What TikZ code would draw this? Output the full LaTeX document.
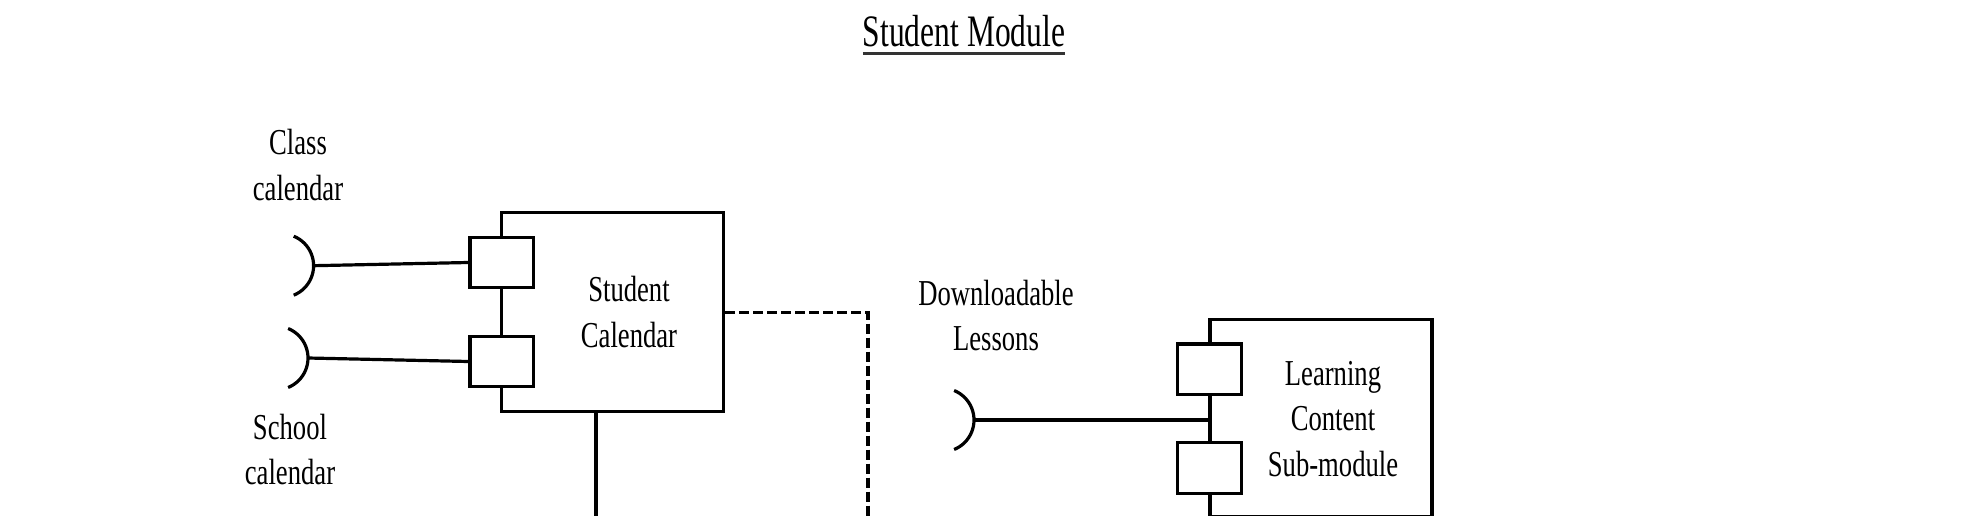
\documentclass[tikz,border=0pt]{standalone}
\usepackage{fontspec}
\setmainfont{Liberation Serif}
\newfontfamily\lblfam[FakeStretch=0.73]{Liberation Serif}
\newfontfamily\ttlfam[FakeStretch=0.70]{Liberation Serif}
\newcommand\lblstack[1]{\begin{tabular}[t]{@{}c@{}}#1\end{tabular}}
\begin{document}
\begin{tikzpicture}[x=1pt,y=-1pt,
  comp/.style={draw, line width=3.2pt, fill=white, inner sep=0pt, minimum width=222pt, minimum height=199pt},
  port/.style={draw, line width=3.2pt, fill=white, inner sep=0pt, minimum width=63.5pt, minimum height=50.5pt},
  conn/.style={line width=3.2pt},
  depconn/.style={line width=3.2pt, dash pattern=on 10pt off 4pt},
  lbl/.style={inner sep=0pt, anchor=base, font=\lblfam\fontsize{36.5}{45.5}\selectfont},
  ttl/.style={inner sep=0pt, anchor=base, font=\ttlfam\fontsize{45}{50}\selectfont}]
\useasboundingbox (0,0) rectangle (1965,516);
\clip (0,0) rectangle (1965,516);
\fill[white] (0,0) rectangle (1965,516);

% title
\node[ttl] (title) at (964,47) {Student Module};
\draw[line width=2.6pt, black!80] ([yshift=-6.5pt]title.base west) -- ([yshift=-6.5pt]title.base east);

% components
\node[comp] (sc) at (612.7,312.2) {};
\node[comp, minimum height=197.6pt] (lc) at (1321,418.2) {};

% ports
\node[port] (p1) at (501.7,262.5) {};
\node[port] (p2) at (501.7,361.5) {};
\node[port] (p3) at (1209.5,369.3) {};
\node[port] (p4) at (1209.5,468) {};

% sockets (required interfaces)
\coordinate (s1) at (313.6,265.7);
\coordinate (s2) at (308,358);
\coordinate (s3) at (974,420);
\foreach \s in {s1,s2,s3}{
  \draw[conn] (\s) ++(-31.8,0) ++(68:31.8) arc[start angle=68, end angle=-68, radius=31.8];
}

% connectors
\draw[conn] (s1) -- (p1.west);
\draw[conn] (s2) -- (p2.west);
\draw[conn] (s3) -- (s3 -| lc.west);

\coordinate (scb) at (596,516);
\coordinate (dsh) at (868,516);
\draw[conn] (sc.south -| scb) -- (scb);
\draw[depconn] (sc.east) -| (dsh);

% labels
\node[lbl] (cls) at (298,155) {\lblstack{Class\\calendar}};
\node[lbl] (sch) at (290,439) {\lblstack{School\\calendar}};
\node[lbl] (sct) at (629,301.7) {\lblstack{Student\\Calendar}};
\node[lbl] (dl) at (996,305) {\lblstack{Downloadable\\Lessons}};
\node[lbl] (lct) at (1333,385) {\lblstack{Learning\\Content\\Sub-module}};
\end{tikzpicture}
\end{document}
